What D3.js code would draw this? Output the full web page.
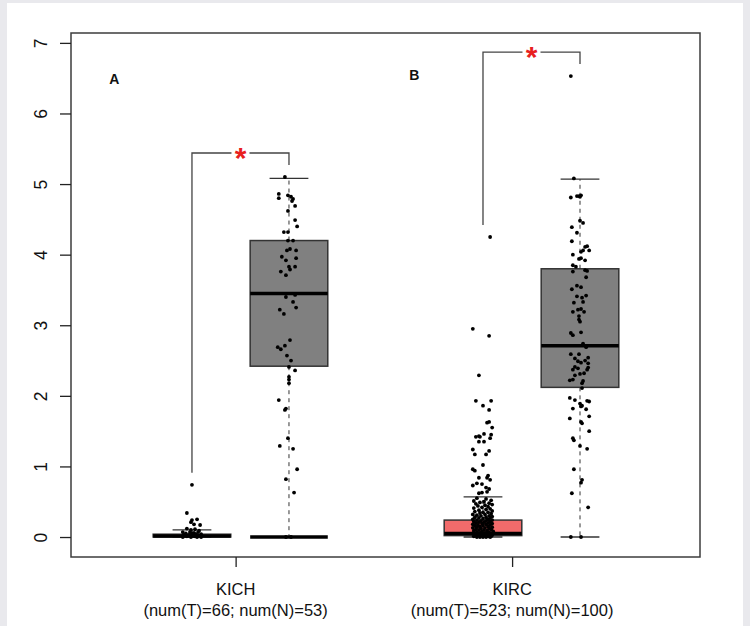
<!DOCTYPE html>
<html>
<head>
<meta charset="utf-8">
<script src="https://cdn.jsdelivr.net/npm/d3@7"></script>
<style>
  html, body { margin: 0; padding: 0; background: #e9e9ed; overflow: hidden; }
  svg { display: block; font-family: "Liberation Sans", Arial, sans-serif; }
</style>
</head>
<body>
<div id="chart"></div>
<script>
// categories and labels
var cancers = ["KICH", "KIRC"];
var countLabels = ["(num(T)=66; num(N)=53)", "(num(T)=523; num(N)=100)"];
var panelLabels = ["A", "B"];
var yTicks = [0, 1, 2, 3, 4, 5, 6, 7];
var tickPositions = [1.45, 4.3];
var boxPositions = [1, 2, 4, 5];          // KICH T, KICH N, KIRC T, KIRC N
var boxGroups = ["tumor", "normal", "tumor", "normal"];

// [lower whisker, q1, median, q3, upper whisker]
var boxStats = [
    [0, 0, 0.015, 0.04, 0.10],
    [0, 2.42, 3.45, 4.20, 5.08],
    [0, 0.02, 0.05, 0.24, 0.57],
    [0, 2.12, 2.71, 3.80, 5.07]
];

// points: [value, jitter]
var kichTumor = [[0.74,0],[0.34,-0.5],[0.24,0],[0.21,-0.1],[0.25,0.5],[0.18,0.2],[0.17,0.8],[0.12,-0.5],[0.10,-0.1],
    [0.11,0.3],[0.09,0.7],[0.07,-0.9],[0.07,-0.2],[0.06,0.2],[0.07,0.6],[0.05,-0.6],[0.05,0.0],[0.04,0.4],[0.04,0.9],
    [0.03,-0.8],[0.03,-0.3],[0.02,0.1],[0.02,0.6],[0.01,-0.5],[0.01,0.3],[0,-0.9],[0,-0.1],[0,0.5],[0,0.9]];

var kichNormal = [[5.10,-0.4],[4.86,-1.0],[4.80,-1.0],[4.84,-0.1],[4.82,0.2],[4.79,0.4],[4.76,0.3],[4.69,0.6],[4.62,-0.1],
    [4.49,0.6],[4.40,0.8],[4.32,-0.5],[4.32,-0.1],[4.20,-0.1],[4.20,0.4],[4.08,0.1],[4.06,-0.2],[4.06,0.7],[3.97,-0.7],
    [3.95,0.7],[3.92,-0.3],[3.83,0],[3.83,0.6],[3.79,0.1],[3.76,-0.8],[3.71,-0.3],[3.40,-0.3],[3.43,0.6],[3.33,0.4],
    [3.22,-0.9],[3.16,-0.5],[3.25,0.7],[2.79,0.1],[2.69,-1.1],[2.66,-0.8],[2.71,-0.4],[2.57,-0.2],[2.50,0.2],[2.41,0],
    [2.36,0.6],[2.27,0],[2.23,0],[2.18,0],[1.94,-1.0],[1.82,-0.3],[1.80,-0.4],[1.40,-0.1],[1.29,-0.9],[1.25,0.4],
    [0.96,0.8],[0.82,-0.3],[0.63,0.5],[0,-0.3],[0,0.2]];

var kircTumor = [[4.25,0.7],[2.95,-1.0],[2.85,0.6],[2.29,-0.4],[1.93,-0.7],[1.86,0],[1.93,0.8],[1.80,0.6],[1.62,0.4],
    [1.63,0.6],[1.55,0.9],[1.42,-0.7],[1.43,-0.4],[1.42,-0.3],[1.46,0.1],[1.45,0.8],[1.40,0.7],[1.35,-0.4],[1.35,0.1],
    [1.24,-1.0],[1.17,-0.8],[1.17,0.3],[1.22,0.6],[1.02,0],[0.96,-1.0],[0.94,-0.8],[0.84,-0.4],[0.87,0.5],[0.84,0.4],
    [0.81,0.7],[0.73,-1.0],[0.76,-0.6],[0.75,-0.1],[0.70,0.3],[0.68,0.6],[0.63,-0.1],[0.64,0.4],[0.62,-0.4],
    [0.55,-0.6],[0.54,0.3],[0.52,0.8],[0.51,-0.9],[0.50,0.1],[0.49,-0.3],[0.48,0.6],[0.47,-0.7],[0.46,0.9],[0.45,0.2],
    [0.44,-0.5],[0.43,0.5],[0.42,-0.1],[0.41,-0.9],[0.40,0.7],[0.39,0.3],[0.38,-0.4],[0.37,0.9],[0.36,-0.8],[0.35,0.0],
    [0.35,0.5],[0.34,-0.3],[0.33,0.8],[0.32,-1.0],[0.32,0.2],[0.31,-0.6],[0.30,0.6],[0.30,-0.2],[0.29,0.9],[0.28,-0.8],
    [0.28,0.3],[0.27,-0.4],[0.27,0.7],[0.26,0.0],[0.25,-1.0],[0.25,0.5],[0.24,-0.6],[0.24,0.9],[0.23,-0.2],[0.23,0.3],
    [0.22,-0.9],[0.22,0.7],[0.21,-0.4],[0.21,0.1],[0.20,0.5],[0.20,-0.7],[0.19,0.9],[0.19,-0.1],[0.18,-1.0],[0.18,0.3],
    [0.17,-0.5],[0.17,0.7],[0.16,0.0],[0.16,-0.8],[0.15,0.5],[0.15,-0.3],[0.14,0.9],[0.14,-0.6],[0.13,0.2],[0.13,-1.0],
    [0.12,0.6],[0.12,-0.2],[0.11,-0.7],[0.11,0.8],[0.10,0.1],[0.10,-0.4],[0.09,0.4],[0.09,-0.9],[0.08,1.0],[0.08,-0.1],
    [0.07,-0.6],[0.07,0.6],[0.06,0.2],[0.06,-0.3],[0.05,-1.0],[0.05,0.8],[0.05,-0.5],[0.04,0.3],[0.04,-0.8],[0.04,0.0],
    [0.03,0.6],[0.03,-0.4],[0.03,0.9],[0.02,-0.7],[0.02,0.2],[0.02,-0.1],[0.01,0.5],[0.01,-0.9],[0.01,0.8],[0,-0.3],
    [0,0.3],[0,-0.6],[0,0],[0,0.7]];

var kircNormal = [[6.53,-0.9],[5.08,-0.6],[4.81,-0.9],[4.83,-0.3],[4.83,-0.1],[4.82,0],[4.84,0.1],[4.48,0],[4.45,0.3],
    [4.39,-0.8],[4.31,-0.3],[4.19,-0.8],[4.12,0.7],[4.06,0.9],[4.06,0.3],[4.04,0.1],[4.11,0.5],[4.00,-0.7],[3.94,-0.1],
    [3.95,0.1],[3.92,0.5],[3.85,-0.7],[3.83,-0.4],[3.78,0.5],[3.77,0.7],[3.76,-0.7],[3.68,0.6],[3.56,-0.3],[3.54,0.1],
    [3.51,-0.8],[3.42,0.6],[3.41,-0.3],[3.39,0.2],[3.33,0.3],[3.32,-0.6],[3.23,0.1],[3.19,0.4],[3.22,-0.2],[3.19,-0.7],
    [3.13,-0.1],[3.08,-0.1],[3.05,0],[2.89,-0.9],[2.86,-0.7],[2.90,0.1],[2.74,0.3],[2.69,0.6],[2.59,-0.9],[2.59,-0.1],
    [2.54,0.8],[2.53,-0.5],[2.49,-0.2],[2.47,0.1],[2.50,0.5],[2.46,0.8],[2.41,-0.5],[2.39,-0.2],[2.40,0.8],[2.37,0.7],
    [2.37,-0.7],[2.31,0],[2.32,0.4],[2.29,-0.5],[2.22,-1.0],[2.21,0.3],[2.23,-0.7],[2.18,0.2],[2.11,0.2],[1.97,-1.0],
    [1.94,-0.5],[1.93,0.7],[1.89,0],[1.92,0.9],[1.82,-0.7],[1.86,0.2],[1.81,0.6],[1.85,0.1],[1.71,0.9],[1.68,-1.0],
    [1.63,0.1],[1.61,0.2],[1.50,0.9],[1.40,-0.7],[1.37,-0.6],[1.29,0],[1.25,0.7],[0.96,-0.6],[0.81,0.2],[0.77,0.1],
    [0.62,-0.8],[0.42,0.8],[0,-0.9],[0,0.1]];

var pointSets = [kichTumor, kichNormal, kircTumor, kircNormal];

var W = 750, H = 626;
var margin = { top: 33, right: 50, bottom: 69, left: 71 };
var width = W - margin.left - margin.right;
var height = H - margin.top - margin.bottom;

var svg = d3.select("#chart").append("svg")
    .attr("width", W)
    .attr("height", H);

// white sheet over grey viewer background
svg.append("rect")
    .attr("x", 7).attr("y", 3)
    .attr("width", 736).attr("height", H - 3)
    .attr("fill", "#ffffff");

var g = svg.append("g")
    .attr("transform", "translate(" + margin.left + "," + margin.top + ")");

var x = d3.scaleLinear()
    .domain([-0.247, 6.237])
    .range([0, width]);

var y = d3.scaleLinear()
    .domain([-0.283, 7.14])
    .range([height, 0]);

var unit = x(1) - x(0);
var boxW = unit * 0.8;
var jitterW = unit * 0.105;

// frame
g.append("rect")
    .attr("width", width)
    .attr("height", height)
    .attr("fill", "none")
    .attr("stroke", "#3c3c3c")
    .attr("stroke-width", 1.5);

//y-axis
var yAxis = g.append("g")
    .call(d3.axisLeft(y).tickValues(yTicks).tickSize(11).tickPadding(0).tickFormat(d3.format("d")))
    .attr("font-size", 17.5)
    .attr("font-family", "'Liberation Sans', Arial, sans-serif");
yAxis.select(".domain").remove();
yAxis.selectAll("line").attr("stroke", "#222").attr("stroke-width", 1.3);
yAxis.selectAll("text")
    .attr("transform", "rotate(-90)")
    .attr("x", 0)
    .attr("y", -24)
    .attr("dy", 0)
    .attr("text-anchor", "middle")
    .attr("fill", "#111")
    .style("font-size", "17.5px");

//x-axis
var xAxis = g.append("g")
    .attr("transform", "translate(0," + height + ")")
    .call(d3.axisBottom(x).tickValues(tickPositions).tickSize(10).tickFormat(""));
xAxis.select(".domain").remove();
xAxis.selectAll("line").attr("stroke", "#222").attr("stroke-width", 1.3);

tickPositions.forEach(function (p, i) {
    g.append("text")
        .attr("x", x(p))
        .attr("y", height + 38)
        .attr("text-anchor", "middle")
        .attr("fill", "#111")
        .style("font-size", "16.5px")
        .text(cancers[i]);
    g.append("text")
        .attr("x", x(p))
        .attr("y", height + 59)
        .attr("text-anchor", "middle")
        .attr("fill", "#111")
        .style("font-size", "16.5px")
        .text(countLabels[i]);
});

// boxes
boxStats.forEach(function (s, i) {
    var cx = x(boxPositions[i]);
    var box = g.append("g");
    // whiskers
    box.append("line")
        .attr("x1", cx).attr("x2", cx)
        .attr("y1", y(s[3])).attr("y2", y(s[4]))
        .attr("stroke", "#333").attr("stroke-dasharray", "4,4");
    box.append("line")
        .attr("x1", cx).attr("x2", cx)
        .attr("y1", y(s[1])).attr("y2", y(s[0]))
        .attr("stroke", "#333").attr("stroke-dasharray", "4,4");
    [s[0], s[4]].forEach(function (v) {
        box.append("line")
            .attr("x1", cx - boxW / 4).attr("x2", cx + boxW / 4)
            .attr("y1", y(v)).attr("y2", y(v))
            .attr("stroke", "#333").attr("stroke-width", 1.3);
    });
    box.append("rect")
        .attr("x", cx - boxW / 2)
        .attr("y", y(s[3]))
        .attr("width", boxW)
        .attr("height", y(s[1]) - y(s[3]))
        .attr("fill", boxGroups[i] == "tumor" ? "#f26b6b" : "#808080")
        .attr("stroke", "#333")
        .attr("stroke-width", 1.5);
    box.append("line")
        .attr("x1", cx - boxW / 2).attr("x2", cx + boxW / 2)
        .attr("y1", y(s[2])).attr("y2", y(s[2]))
        .attr("stroke", "#000").attr("stroke-width", 3.5);
});

// KICH normal: heavy bar at zero
g.append("line")
    .attr("x1", x(boxPositions[1]) - boxW / 2).attr("x2", x(boxPositions[1]) + boxW / 2)
    .attr("y1", y(0)).attr("y2", y(0))
    .attr("stroke", "#000").attr("stroke-width", 3.5);

// jittered points
pointSets.forEach(function (pts, i) {
    g.append("g").selectAll("circle")
        .data(pts)
        .enter().append("circle")
        .attr("cx", function (d) { return x(boxPositions[i]) + d[1] * jitterW; })
        .attr("cy", function (d) { return y(d[0]); })
        .attr("r", 1.9)
        .attr("fill", "#000");
});

// significance brackets
[0, 1].forEach(function (k) {
    var t = pointSets[k * 2], n = pointSets[k * 2 + 1];
    var tMax = d3.max(t, function (d) { return d[0]; });
    var nMax = d3.max(n, function (d) { return d[0]; });
    var xl = x(boxPositions[k * 2]), xr = x(boxPositions[k * 2 + 1]);
    var xm = (xl + xr) / 2;
    var top = y(nMax + 0.34);
    g.append("path")
        .attr("d", "M" + xl + "," + y(tMax + 0.17) + "V" + top + "H" + (xm - 9))
        .attr("fill", "none").attr("stroke", "#444").attr("stroke-width", 1.3);
    g.append("path")
        .attr("d", "M" + (xm + 9) + "," + top + "H" + xr + "V" + y(nMax + 0.17))
        .attr("fill", "none").attr("stroke", "#444").attr("stroke-width", 1.3);
    g.append("text")
        .attr("x", xm)
        .attr("y", top + 15)
        .attr("text-anchor", "middle")
        .attr("fill", "#e8201e")
        .style("font-size", "30px")
        .style("font-weight", "bold")
        .text("*");
});

// panel letters
var letterAt = [[0.147, 6.42], [3.24, 6.47]];
panelLabels.forEach(function (l, i) {
    g.append("text")
        .attr("x", x(letterAt[i][0]))
        .attr("y", y(letterAt[i][1]))
        .attr("fill", "#111")
        .style("font-size", "14px")
        .style("font-weight", "bold")
        .text(l);
});
</script>
</body>
</html>
